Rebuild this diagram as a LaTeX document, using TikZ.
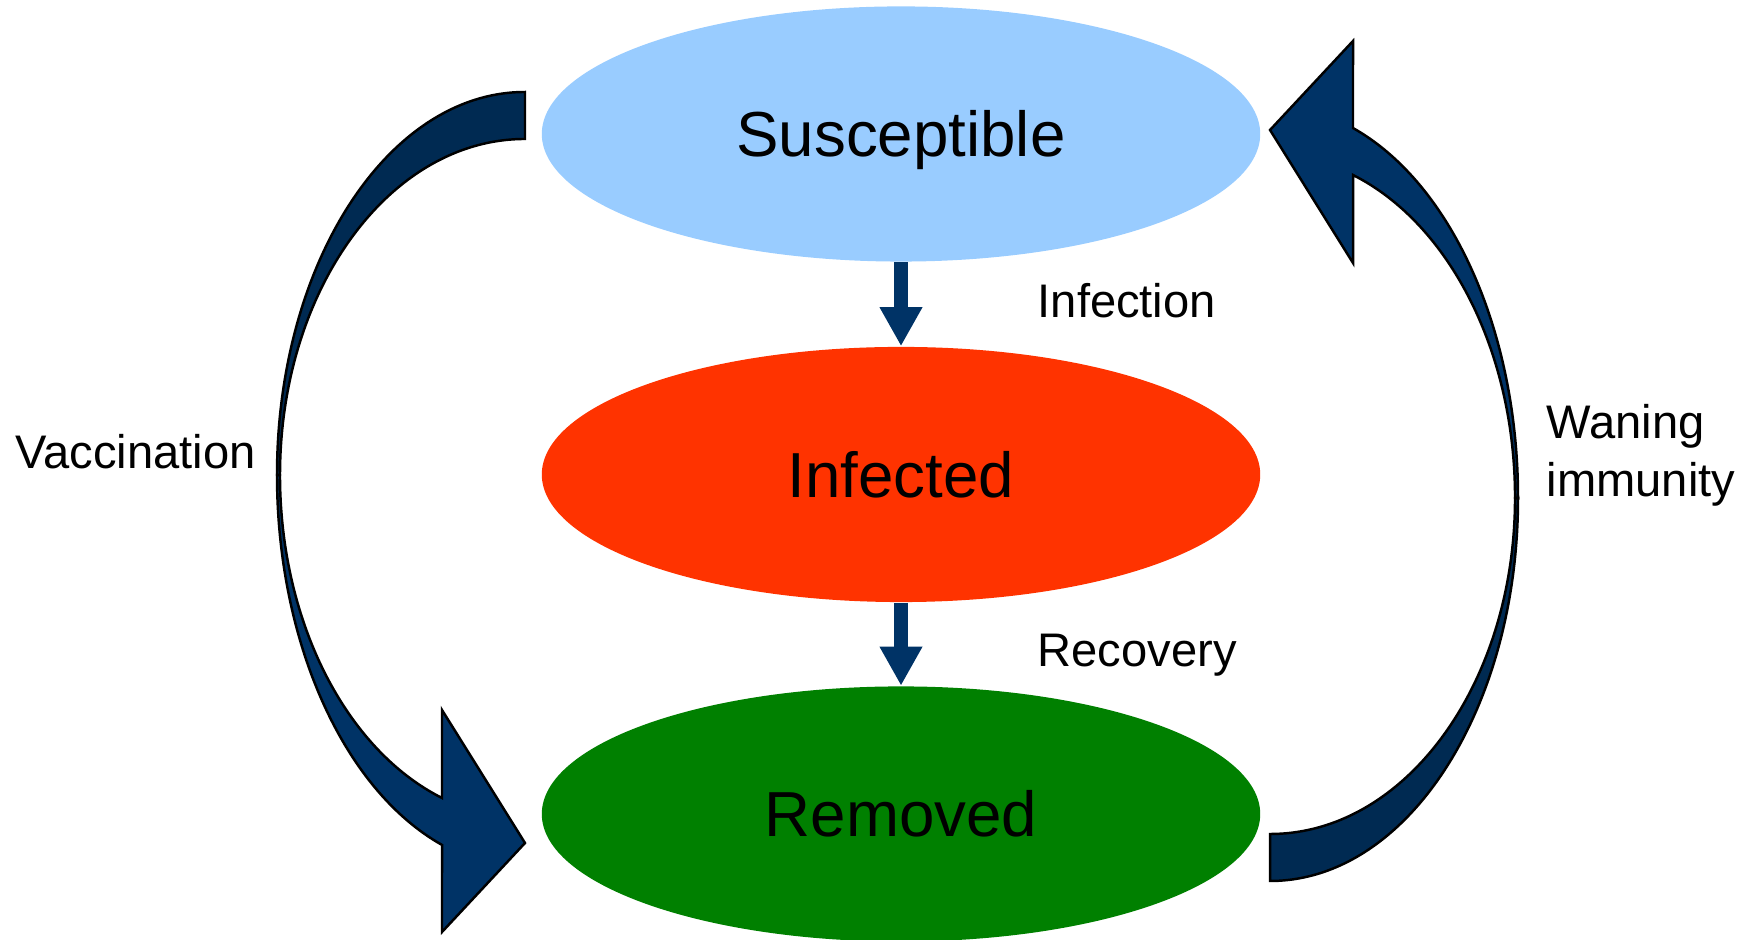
\documentclass[tikz,border=0pt]{standalone}
\usepackage{fontspec}
\setmainfont{Liberation Sans}
\usetikzlibrary{arrows.meta, positioning, shapes.geometric}
\definecolor{sirblue}{HTML}{99CCFF}
\definecolor{sirred}{HTML}{FF3300}
\definecolor{sirgreen}{HTML}{008000}
\definecolor{sirnavy}{HTML}{003366}
\definecolor{sirdark}{HTML}{002A52}

% bent arrow: dark tail band, lighter head band
\newcommand{\sirbend}{%
  \draw[band=sirdark] (525,848) arc[start angle=90, end angle=180, x radius=248, y radius=383]
    -- (280,465) arc[start angle=180, end angle=90, x radius=245, y radius=336] -- cycle;
  \draw[band=sirnavy] (277,465) arc[start angle=180, end angle=250.45, x radius=248, y radius=392.6]
    -- (442,8) -- (525,97) -- (442,230) -- (442,142)
    arc[start angle=250.2, end angle=180, x radius=245, y radius=343] -- cycle;
}

\begin{document}
\begin{tikzpicture}[x=0.01cm, y=0.01cm,
  comp/.style={ellipse, fill=#1, minimum width=7.18cm, minimum height=2.55cm, inner sep=0pt, font=\fontsize{18.1}{21}\selectfont, text height=13pt, text depth=0pt},
  lbl/.style={inner sep=0pt, font=\fontsize{13.4}{16.4}\selectfont},
  flow/.style={-{Triangle[width=0.4cm, length=0.39cm]}, line width=0.14cm, sirnavy},
  band/.style={fill=#1, draw=black, line width=0.7pt, line join=miter},
]
  \useasboundingbox (0,0) rectangle (1752,940);

  % Compartments
  \node[comp=sirblue] (sus) at (901,806) {Susceptible};
  \node[comp=sirred] (inf) at (901,465.5) {Infected};
  \node[comp=sirgreen] (rem) at (901,126) {Removed};

  % Transitions
  \draw[flow] (sus.south) -- (inf.north);
  \draw[flow] (inf.south) -- (rem.north);
  \node[lbl, anchor=base west] (infl) at (1037,622) {Infection};
  \node[lbl, anchor=base west] (recl) at (1037,273) {Recovery};

  % Vaccination: S -> R
  \sirbend
  \node[lbl, anchor=base west] (vacl) at (15,471) {Vaccination};

  % Waning immunity: R -> S
  \begin{scope}[rotate around={180:(897.5,453.5)}]
    \sirbend
  \end{scope}
  \node[lbl, anchor=west, align=left] (wanl) at (1546,485) {Waning\\immunity};
\end{tikzpicture}
\end{document}
